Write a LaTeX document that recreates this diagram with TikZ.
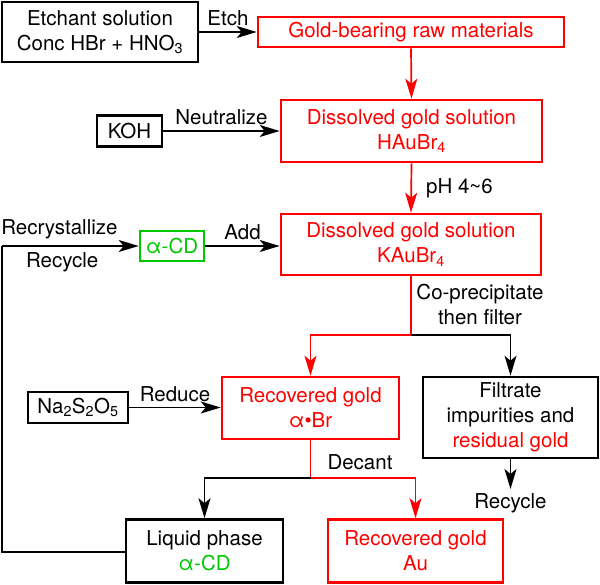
\documentclass[tikz,border=0pt]{standalone}
\usepackage{fontspec}
\setmainfont{TeX Gyre Heros}
\usetikzlibrary{arrows.meta}
\definecolor{cred}{RGB}{255,0,0}
\definecolor{cgreen}{RGB}{0,200,0}
\newcommand\chsub[1]{\textsubscript{#1}}
\begin{document}
\begin{tikzpicture}[x=1pt,y=-1pt,
  every node/.style={font=\fontsize{20.5}{25}\selectfont},
  box/.style={draw=black,line width=2.6pt,inner sep=0pt,align=center,text=black},
  redbox/.style={box,draw=cred,text=cred},
  greenbox/.style={box,draw=cgreen,text=cgreen},
  arr/.style={line width=1.7pt,-{Stealth[length=20pt,width=12pt,inset=5pt]}},
  redarr/.style={arr,draw=cred},
  lbl/.style={inner sep=0pt,align=center,text=black}]
\useasboundingbox (0,0) rectangle (600,585);
% boxes
\node[box,minimum width=196pt,minimum height=60pt] (etch) at (100,32) {Etchant solution\\Conc HBr + HNO\chsub{3}};
\node[redbox,minimum width=306pt,minimum height=30pt] (raw) at (411,32) {Gold-bearing raw materials};
\node[redbox,minimum width=261pt,minimum height=62pt] (hau) at (411.5,131) {Dissolved gold solution\\HAuBr\chsub{4}};
\node[box,minimum width=65pt,minimum height=31pt] (koh) at (129.5,131) {KOH};
\node[redbox,minimum width=260pt,minimum height=61pt] (kau) at (411,244.5) {Dissolved gold solution\\KAuBr\chsub{4}};
\node[greenbox,minimum width=64pt,minimum height=30pt] (acd) at (172,246) {α-CD};
\node[redbox,minimum width=177pt,minimum height=62pt] (rab) at (310.5,408) {Recovered gold\\α•Br};
\node[box,minimum width=100pt,minimum height=31pt] (na) at (78,407.5) {Na\chsub{2}S\chsub{2}O\chsub{5}};
\node[box,minimum width=175pt,minimum height=81pt] (filt) at (510.5,417.5) {Filtrate\\impurities and\\\textcolor{cred}{residual gold}};
\node[box,minimum width=157pt,minimum height=63pt] (liq) at (204.5,551) {Liquid phase\\\textcolor{cgreen}{α-CD}};
\node[redbox,minimum width=175pt,minimum height=63pt] (au) at (415.5,551) {Recovered gold\\Au};
% coordinates
\coordinate (split1) at (411,335);
\coordinate (split2) at (310.5,478);
\coordinate (rcA) at (2,552);
\coordinate (rcB) at (2,246);
\coordinate (recyc) at (510.5,489);
% arrows
\draw[arr] (etch.east |- 0,32) -- (raw.west) node[lbl,midway,above=5pt] {Etch};
\draw[redarr] (raw.south) -- (hau.north);
\draw[arr] (koh.east) -- (koh.east -| hau.west) node[lbl,midway,above=5pt] {Neutralize};
\draw[redarr] (hau.south) -- (kau.north) node[lbl,midway,right=14pt] {pH 4\textasciitilde6};
\draw[arr] (acd.east) -- (acd.east -| kau.west) node[lbl,midway,above=5pt] {Add};
\draw[line width=1.3pt] (liq.west |- rcA) -- (rcA) -- (rcB);
\draw[arr] (rcB) -- (acd.west) node[lbl,pos=0.42,above=6pt] {Recrystallize} node[lbl,pos=0.44,below=6pt] {Recycle};
\draw[line width=1.7pt,draw=cred] (kau.south) -- (split1);
\node[lbl] (cop) at (480,304) {Co-precipitate\\then filter};
\draw[redarr] (split1) -| (rab.north);
\draw[arr] (split1) -| (filt.north);
\draw[arr] (na.east) -- (na.east -| rab.west) node[lbl,midway,above=5pt] {Reduce};
\draw[arr] (filt.south) -- (recyc) node[lbl,below=4pt] (rcl) {Recycle};
\draw[line width=1.7pt,draw=cred] (rab.south) -- (split2);
\node[lbl] (dec) at (360,462) {Decant};
\draw[arr] (split2) -| (liq.north);
\draw[redarr] (split2) -| (au.north);
\end{tikzpicture}
\end{document}
